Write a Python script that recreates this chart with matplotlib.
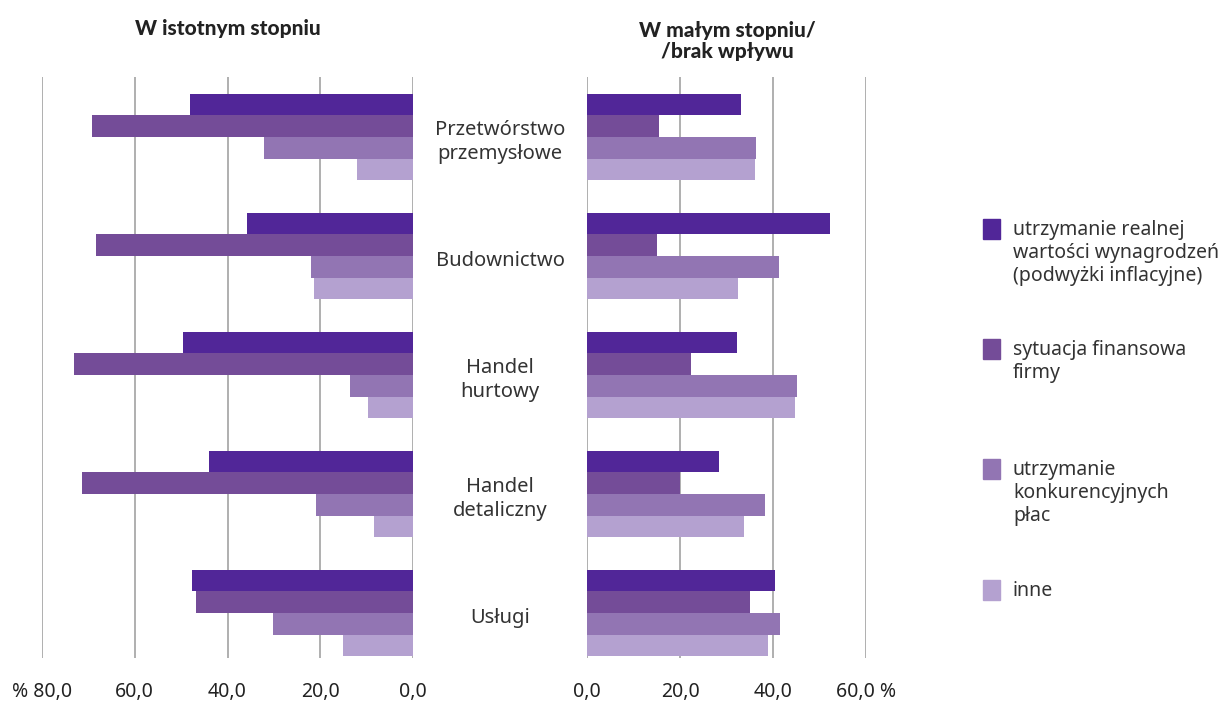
import numpy as np
import matplotlib.pyplot as plt

plt.rcParams['font.family'] = ['Noto Sans', 'DejaVu Sans']

# data
categories = ["Przetwórstwo\nprzemysłowe", "Budownictwo", "Handel\nhurtowy",
              "Handel\ndetaliczny", "Usługi"]
series = ["utrzymanie realnej\nwartości wynagrodzeń\n(podwyżki inflacyjne)",
          "sytuacja finansowa\nfirmy",
          "utrzymanie\nkonkurencyjnych\npłac",
          "inne"]
colors = ["#512698", "#744c98", "#9275b3", "#b4a1d0"]

# "W istotnym stopniu" (left panel)
left_vals = [
    [48.1, 35.8, 49.6, 44.0, 47.6],
    [69.2, 68.3, 73.1, 71.3, 46.8],
    [32.1, 22.0, 13.6, 20.9, 30.2],
    [12.1, 21.3, 9.7, 8.4, 15.1],
]
# "W małym stopniu/brak wpływu" (right panel)
right_vals = [
    [33.1, 52.3, 32.3, 28.4, 40.4],
    [15.5, 15.1, 22.4, 20.0, 35.1],
    [36.3, 41.3, 45.2, 38.3, 41.5],
    [36.1, 32.5, 44.7, 33.8, 38.9],
]

fig = plt.figure(figsize=(12.32, 7.05), dpi=100)
W, H = 1232, 705
bottom = 1 - 658 / H
height = (658 - 77) / H
axL = fig.add_axes([42 / W, bottom, 371 / W, height])
axR = fig.add_axes([587 / W, bottom, 279 / W, height])

y = np.arange(len(categories))
bh = 0.181
for ax, vals in [(axL, left_vals), (axR, right_vals)]:
    for j, v in enumerate(vals):
        ax.barh(y + (j - 1.5) * bh, v, height=bh, color=colors[j],
                label=series[j], zorder=3)
    ax.set_ylim(4 + 0.378, -0.504)
    ax.set_yticks([])
    for s in ax.spines.values():
        s.set_visible(False)
    ax.grid(axis='x', color='#9a9a9a', linewidth=1.1, zorder=0)
    ax.tick_params(axis='x', length=0, pad=17, labelsize=14, labelcolor='#222222')

axL.set_xlim(80, 0)
axL.set_xticks([80, 60, 40, 20, 0])
axL.set_xticklabels(["% 80,0", "60,0", "40,0", "20,0", "0,0"])
axR.set_xlim(0, 60)
axR.set_xticks([0, 20, 40, 60])
axR.set_xticklabels(["0,0", "20,0", "40,0", "60,0 %"])

# category labels in the middle
for i, c in enumerate(categories):
    fig.text(500 / W, 1 - (142 + i * 119) / H, c, ha='center', va='center',
             fontsize=14.5, color='#333333', linespacing=1.25)

title_font = dict(family=['Lato', 'DejaVu Sans'], fontweight='black',
                  fontsize=15, color='#222222')
fig.text(228 / W, 1 - 28 / H, "W istotnym stopniu", ha='center', va='center',
         **title_font)
fig.text(727 / W, 1 - 41 / H, "W małym stopniu/\n/brak wpływu", ha='center',
         va='center', linespacing=1.1, **title_font)

# legend
leg_y = [229, 349, 469, 590]
for j in range(4):
    yy = 1 - leg_y[j] / H
    fig.patches.append(plt.Rectangle((983 / W, yy - 10 / H), 17 / W, 20 / H,
                                     transform=fig.transFigure, color=colors[j]))
    fig.text(1013 / W, yy + 9 / H, series[j], ha='left', va='top',
             fontsize=14, color='#333333', linespacing=1.2)

fig.savefig("out.png", dpi=100)
